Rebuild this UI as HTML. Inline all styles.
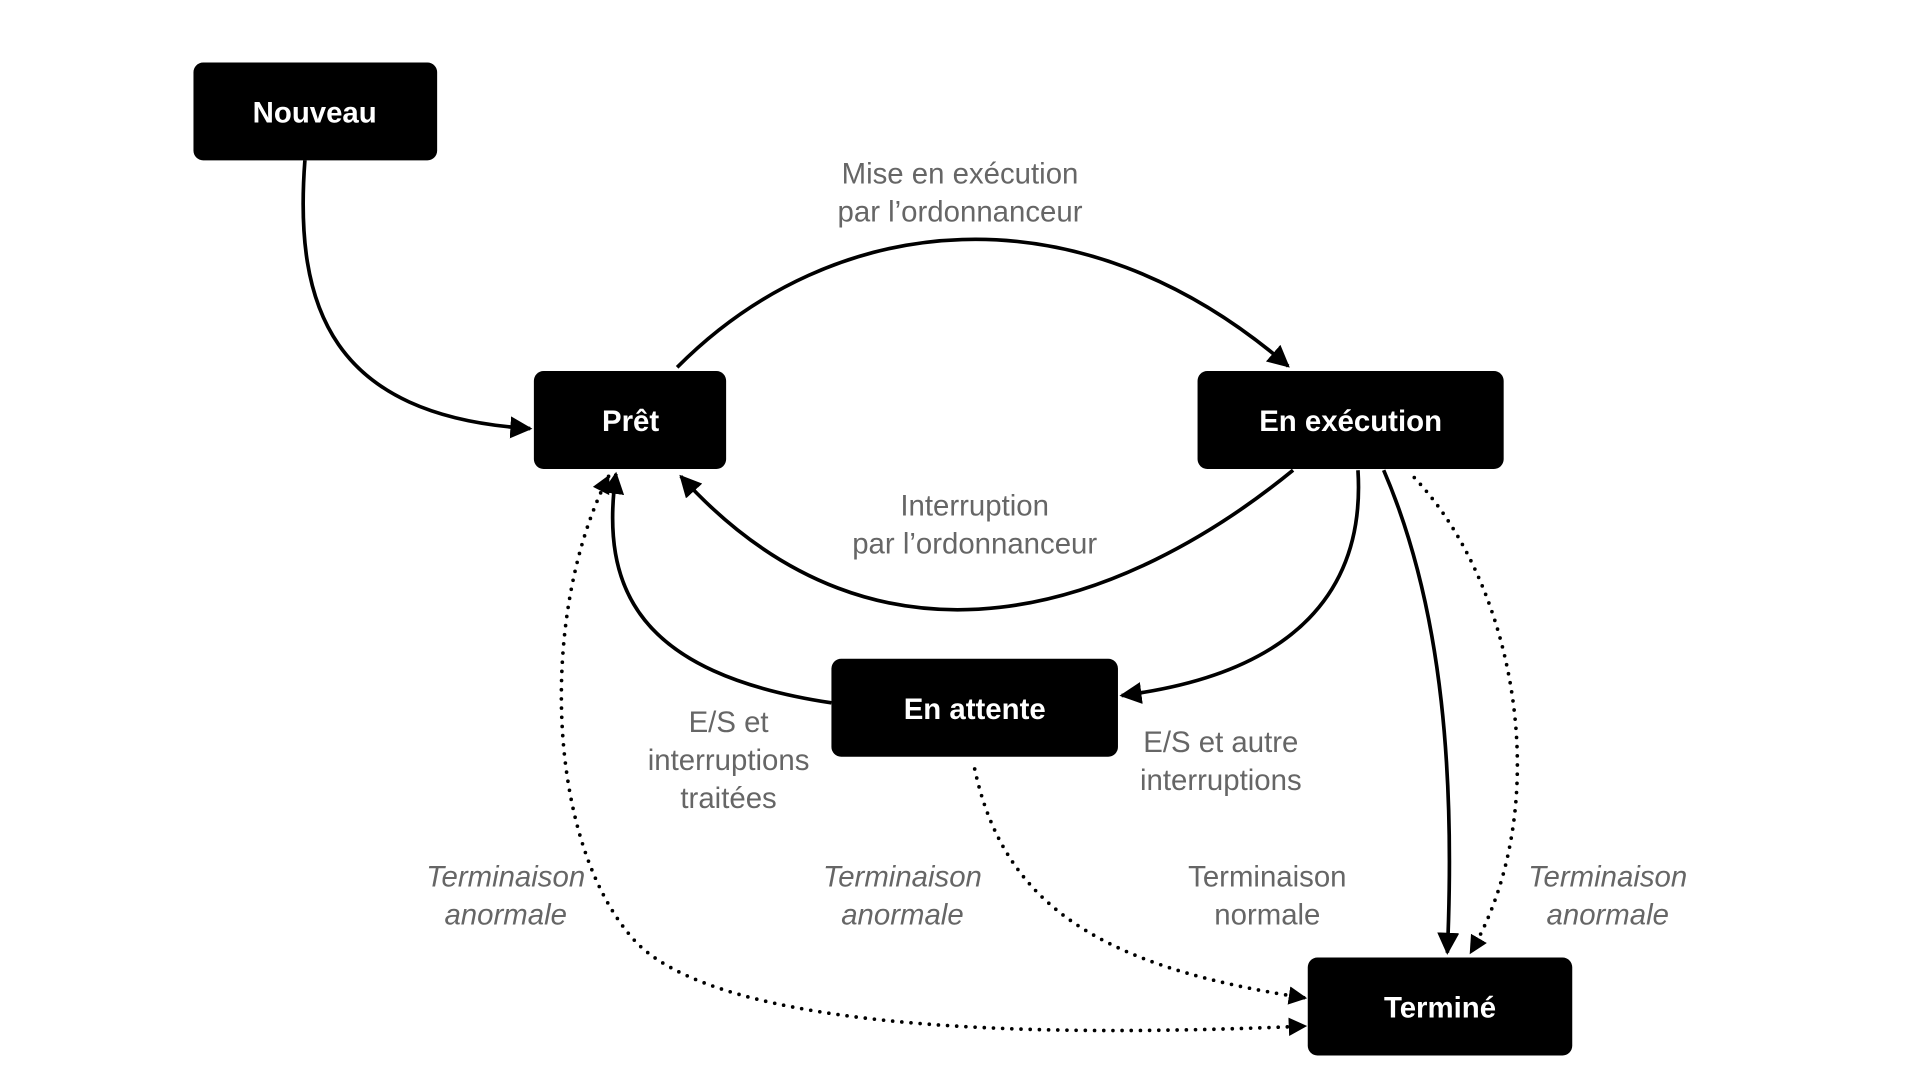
<!DOCTYPE html>
<html><head><meta charset="utf-8"><style>
html,body{margin:0;padding:0;background:#fff;width:1920px;height:1080px;overflow:hidden}
svg{display:block}
.n{fill:#fff;font-family:"Liberation Sans",sans-serif;font-weight:bold;font-size:24px}
.l{fill:#666;font-family:"Liberation Sans",sans-serif;font-size:24px}
.i{font-style:italic}
.s{fill:none;stroke:#000;stroke-width:3}
.d{fill:none;stroke:#000;stroke-width:3;stroke-dasharray:0 7.5;stroke-linecap:round}
</style></head><body>
<svg width="1920" height="1080" viewBox="0 0 1568 882" preserveAspectRatio="none" xmlns="http://www.w3.org/2000/svg">
<defs>
<marker id="a" viewBox="0 0 10 10" refX="9" refY="5" markerWidth="6" markerHeight="6" markerUnits="strokeWidth" orient="auto-start-reverse">
<path d="M0,0 L10,5 L0,10 z" fill="#000"/></marker>
<marker id="b" viewBox="0 0 10 10" refX="9" refY="5" markerWidth="5" markerHeight="5" markerUnits="strokeWidth" orient="auto-start-reverse">
<path d="M0,0 L10,5 L0,10 z" fill="#000"/></marker>
</defs>
<rect x="158" y="51" width="199" height="80" rx="8" fill="#000"/>
<rect x="436" y="303" width="157" height="80" rx="8" fill="#000"/>
<rect x="978" y="303" width="250" height="80" rx="8" fill="#000"/>
<rect x="679" y="538" width="234" height="80" rx="8" fill="#000"/>
<rect x="1068" y="782" width="216" height="80" rx="8" fill="#000"/>
<g text-anchor="middle">
<text class="n" x="257" y="100">Nouveau</text>
<text class="n" x="515" y="352">Prêt</text>
<text class="n" x="1103" y="352">En exécution</text>
<text class="n" x="796" y="587">En attente</text>
<text class="n" x="1176" y="831">Terminé</text>
</g>
<path class="s" d="M553,300 C680,172 880,150 1052,299" marker-end="url(#a)"/>
<path class="s" d="M249,131 C240,250 270,340 433,350" marker-end="url(#a)"/>
<path class="s" d="M1056,384 C920,495 720,570 556,389" marker-end="url(#a)"/>
<path class="s" d="M1109,384 C1115,480 1060,550 916,568" marker-end="url(#a)"/>
<path class="s" d="M679,574 C520,550 490,480 503,387" marker-end="url(#a)"/>
<path class="s" d="M1130,384 C1180,500 1188,640 1182,778" marker-end="url(#a)"/>
<path class="d" d="M1155,390 C1240,480 1270,660 1201,778" marker-end="url(#b)"/>
<path class="d" d="M796,628 C820,740 900,790 1066,815" marker-end="url(#b)"/>
<path class="d" d="M497,389 C440,500 445,690 520,770 C600,850 900,845 1066,838" marker-start="url(#b)" marker-end="url(#b)"/>
<g text-anchor="middle">
<text class="l" x="784" y="150">Mise en exécution</text>
<text class="l" x="784" y="181">par l’ordonnanceur</text>
<text class="l" x="796" y="421">Interruption</text>
<text class="l" x="796" y="452">par l’ordonnanceur</text>
<text class="l" x="595" y="598">E/S et</text>
<text class="l" x="595" y="629">interruptions</text>
<text class="l" x="595" y="660">traitées</text>
<text class="l" x="997" y="614">E/S et autre</text>
<text class="l" x="997" y="645">interruptions</text>
<text class="l i" x="413" y="724">Terminaison</text>
<text class="l i" x="413" y="755">anormale</text>
<text class="l i" x="737" y="724">Terminaison</text>
<text class="l i" x="737" y="755">anormale</text>
<text class="l" x="1035" y="724">Terminaison</text>
<text class="l" x="1035" y="755">normale</text>
<text class="l i" x="1313" y="724">Terminaison</text>
<text class="l i" x="1313" y="755">anormale</text>
</g>
</svg>
</body></html>
